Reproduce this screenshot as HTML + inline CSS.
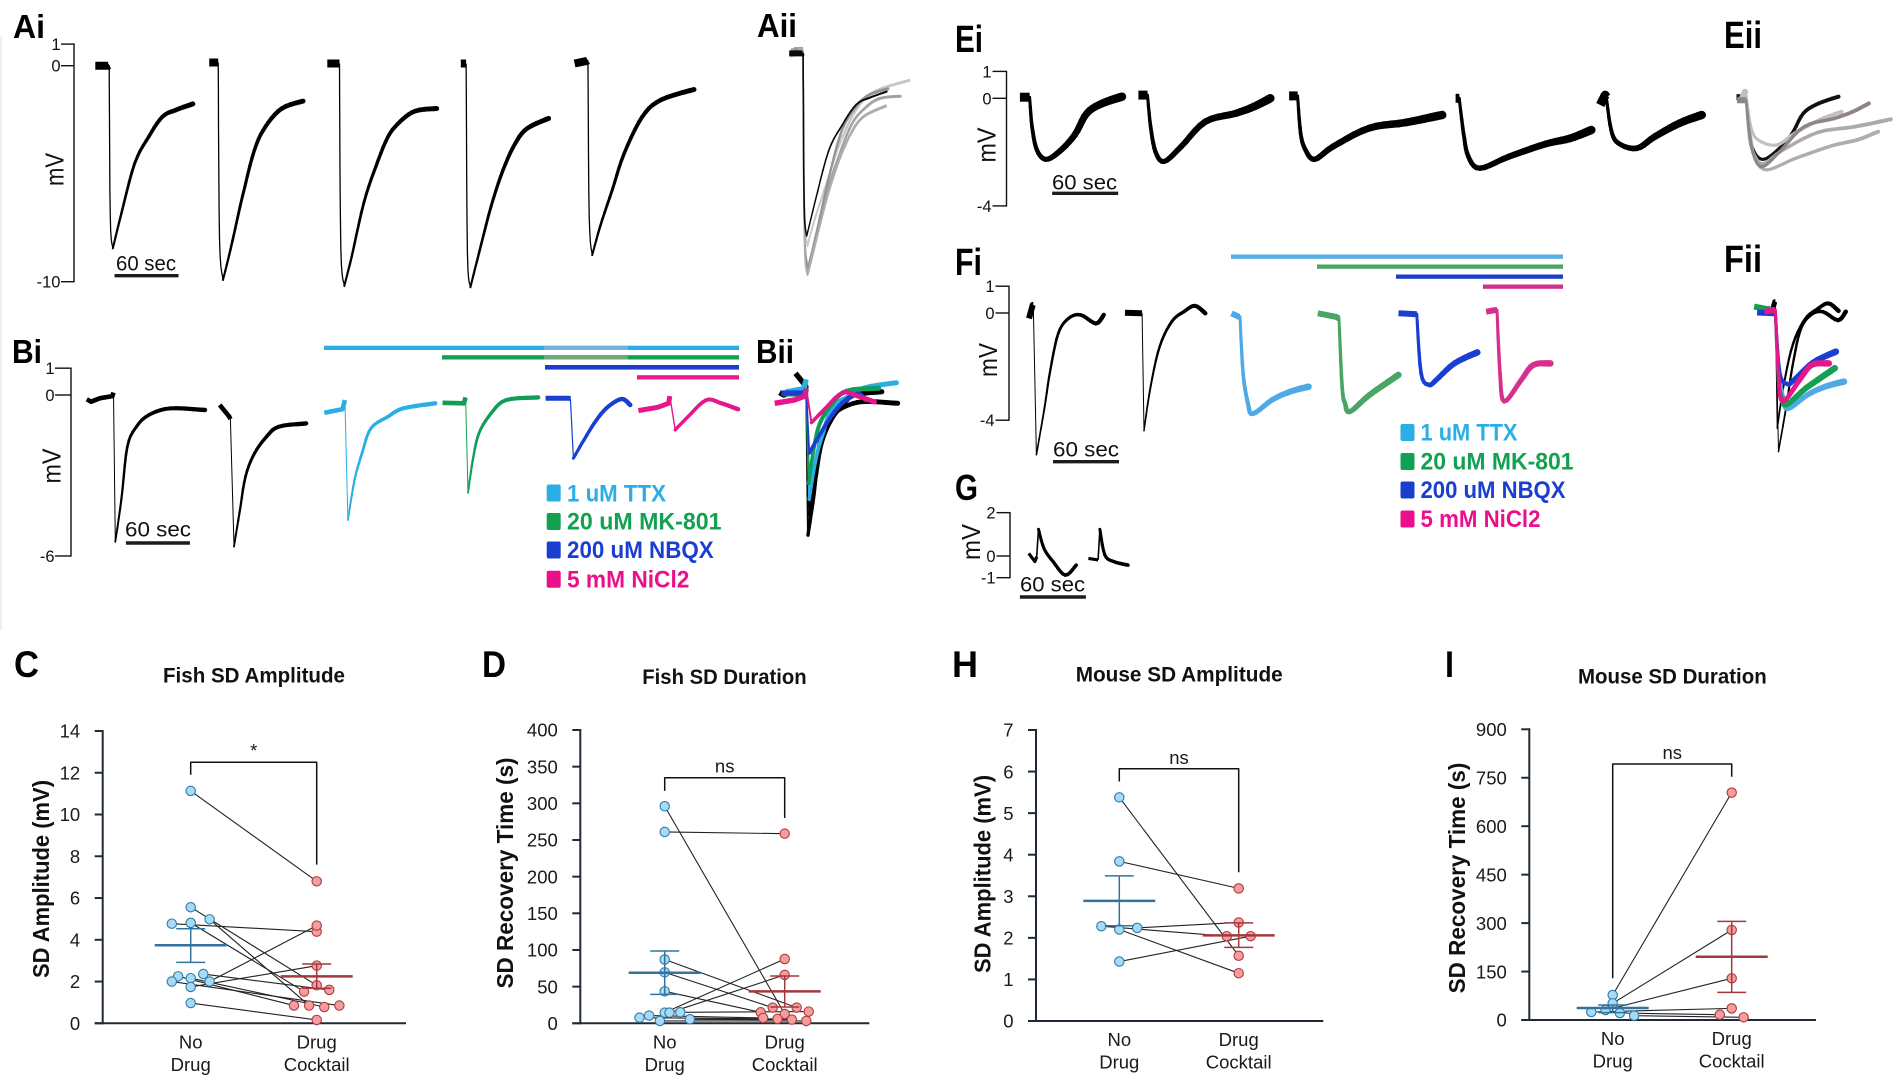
<!DOCTYPE html>
<html lang="en">
<head>
<meta charset="utf-8">
<title>Spreading depolarization recordings</title>
<style>
html,body{margin:0;padding:0;background:#fff}
svg{display:block;font-family:"Liberation Sans",sans-serif}
.pl{font-weight:700;fill:#000}
.ttl{font-weight:700;font-size:21px;fill:#111}
.yt{font-weight:700;font-size:23.5px;fill:#111}
.cat{font-size:18.5px;fill:#1a1a1a;text-anchor:middle}
.sig{font-size:18.5px;fill:#1a1a1a;text-anchor:middle}
.mv{font-size:26px;fill:#111}
.sb{font-size:21px;fill:#111}
.lg{font-weight:700;font-size:24px}
</style>
</head>
<body>
<svg id="figure" xmlns="http://www.w3.org/2000/svg" width="1902" height="1087" viewBox="0 0 1902 1087">
<rect x="0" y="0" width="1902" height="1087" fill="#fff"/>
<rect x="0" y="36" width="2" height="594" fill="#efefef"/>

<text class="pl" x="13" y="38" font-size="33" textLength="32" lengthAdjust="spacingAndGlyphs">Ai</text>
<text class="pl" x="757" y="37" font-size="33" textLength="40" lengthAdjust="spacingAndGlyphs">Aii</text>
<text class="pl" x="12" y="363" font-size="33" textLength="30" lengthAdjust="spacingAndGlyphs">Bi</text>
<text class="pl" x="756" y="363" font-size="33" textLength="38" lengthAdjust="spacingAndGlyphs">Bii</text>
<text class="pl" x="955" y="52" font-size="38" textLength="28" lengthAdjust="spacingAndGlyphs">Ei</text>
<text class="pl" x="1724" y="48" font-size="38" textLength="38" lengthAdjust="spacingAndGlyphs">Eii</text>
<text class="pl" x="955" y="275" font-size="38" textLength="27" lengthAdjust="spacingAndGlyphs">Fi</text>
<text class="pl" x="1724" y="272" font-size="38" textLength="38" lengthAdjust="spacingAndGlyphs">Fii</text>
<text class="pl" x="955" y="500" font-size="36" textLength="23" lengthAdjust="spacingAndGlyphs">G</text>
<text class="pl" x="14" y="677" font-size="37" textLength="25" lengthAdjust="spacingAndGlyphs">C</text>
<text class="pl" x="482" y="677" font-size="37" textLength="24" lengthAdjust="spacingAndGlyphs">D</text>
<text class="pl" x="952" y="677" font-size="37" textLength="26" lengthAdjust="spacingAndGlyphs">H</text>
<text class="pl" x="1445" y="677" font-size="37" textLength="9" lengthAdjust="spacingAndGlyphs">I</text>

<text class="mv" transform="translate(63.6,169.5) rotate(-90)" text-anchor="middle" textLength="33" lengthAdjust="spacingAndGlyphs">mV</text>
<text class="mv" transform="translate(60.6,466) rotate(-90)" text-anchor="middle" textLength="35" lengthAdjust="spacingAndGlyphs">mV</text>
<text class="mv" transform="translate(995.5,145) rotate(-90)" text-anchor="middle" textLength="35" lengthAdjust="spacingAndGlyphs">mV</text>
<text class="mv" transform="translate(997,360) rotate(-90)" text-anchor="middle" textLength="34" lengthAdjust="spacingAndGlyphs">mV</text>
<text class="mv" transform="translate(980,542) rotate(-90)" text-anchor="middle" textLength="36" lengthAdjust="spacingAndGlyphs">mV</text>

<text class="sb" x="116" y="270.7" textLength="60" lengthAdjust="spacingAndGlyphs">60 sec</text>
<text class="sb" x="125" y="536.7" textLength="66" lengthAdjust="spacingAndGlyphs">60 sec</text>
<text class="sb" x="1052" y="189.3" textLength="65" lengthAdjust="spacingAndGlyphs">60 sec</text>
<text class="sb" x="1053" y="456.7" textLength="66" lengthAdjust="spacingAndGlyphs">60 sec</text>
<text class="sb" x="1020" y="591.7" textLength="65" lengthAdjust="spacingAndGlyphs">60 sec</text>

<g>
<rect x="324" y="345.7" width="415" height="4.3" fill="#29aee6"/>
<rect x="544" y="345.7" width="84" height="4.3" fill="#6fb4e0"/>
<rect x="442" y="355.2" width="297" height="4.3" fill="#12a150"/>
<rect x="544" y="355.2" width="84" height="4.3" fill="#6ba87a"/>
<rect x="545" y="365" width="194" height="4.6" fill="#1a3fd0"/>
<rect x="637" y="375.2" width="102" height="4.3" fill="#ec1a8e"/>
</g>
<g>
<rect x="546.7" y="484.5" width="14" height="17" rx="2" fill="#29aee6"/>
<text class="lg" x="567" y="501.3" fill="#29aee6" textLength="99" lengthAdjust="spacingAndGlyphs">1 uM TTX</text>
<rect x="546.7" y="513" width="14" height="17" rx="2" fill="#12a150"/>
<text class="lg" x="567" y="529.7" fill="#12a150" textLength="154.5" lengthAdjust="spacingAndGlyphs">20 uM MK-801</text>
<rect x="546.7" y="541.5" width="14" height="17" rx="2" fill="#1a3fd0"/>
<text class="lg" x="567" y="558" fill="#1a3fd0" textLength="146.7" lengthAdjust="spacingAndGlyphs">200 uM NBQX</text>
<rect x="546.7" y="570.8" width="14" height="17" rx="2" fill="#ec0f8c"/>
<text class="lg" x="567" y="587.3" fill="#ec0f8c" textLength="122.4" lengthAdjust="spacingAndGlyphs">5 mM NiCl2</text>
</g>

<g>
<rect x="1231" y="254.5" width="332" height="4.3" fill="#56ade8"/>
<rect x="1317" y="264.5" width="246" height="4.3" fill="#4aa565"/>
<rect x="1396" y="274.5" width="167" height="4.3" fill="#1a3fc8"/>
<rect x="1483" y="284.5" width="80" height="4.3" fill="#d0308a"/>
</g>
<g>
<rect x="1400.5" y="424" width="14" height="17" rx="2" fill="#29aee6"/>
<text class="lg" x="1420.5" y="440.7" fill="#29aee6" textLength="97" lengthAdjust="spacingAndGlyphs">1 uM TTX</text>
<rect x="1400.5" y="453" width="14" height="17" rx="2" fill="#12a150"/>
<text class="lg" x="1420.5" y="469.7" fill="#12a150" textLength="153" lengthAdjust="spacingAndGlyphs">20 uM MK-801</text>
<rect x="1400.5" y="481.5" width="14" height="17" rx="2" fill="#1a3fd0"/>
<text class="lg" x="1420.5" y="498" fill="#1a3fd0" textLength="145" lengthAdjust="spacingAndGlyphs">200 uM NBQX</text>
<rect x="1400.5" y="510.5" width="14" height="17" rx="2" fill="#ec0f8c"/>
<text class="lg" x="1420.5" y="527" fill="#ec0f8c" textLength="120" lengthAdjust="spacingAndGlyphs">5 mM NiCl2</text>
</g>

<text class="ttl" x="163" y="682.7" textLength="182" lengthAdjust="spacingAndGlyphs">Fish SD Amplitude</text>
<text class="yt" transform="translate(49,879) rotate(-90)" text-anchor="middle" textLength="198" lengthAdjust="spacingAndGlyphs">SD Amplitude (mV)</text>
<text class="cat" x="190.7" y="1048.3">No</text>
<text class="cat" x="190.7" y="1071">Drug</text>
<text class="cat" x="316.7" y="1048.3">Drug</text>
<text class="cat" x="316.7" y="1071">Cocktail</text>
<text class="sig" x="253.7" y="757">*</text>

<text class="ttl" x="642.3" y="684" textLength="164.4" lengthAdjust="spacingAndGlyphs">Fish SD Duration</text>
<text class="yt" transform="translate(513,873) rotate(-90)" text-anchor="middle" textLength="231" lengthAdjust="spacingAndGlyphs">SD Recovery Time (s)</text>
<text class="cat" x="664.7" y="1048.3">No</text>
<text class="cat" x="664.7" y="1071">Drug</text>
<text class="cat" x="784.7" y="1048.3">Drug</text>
<text class="cat" x="784.7" y="1071">Cocktail</text>
<text class="sig" x="724.7" y="772.3">ns</text>

<text class="ttl" x="1075.7" y="681.7" textLength="207" lengthAdjust="spacingAndGlyphs">Mouse SD Amplitude</text>
<text class="yt" transform="translate(990.7,874) rotate(-90)" text-anchor="middle" textLength="198" lengthAdjust="spacingAndGlyphs">SD Amplitude (mV)</text>
<text class="cat" x="1119.3" y="1046">No</text>
<text class="cat" x="1119.3" y="1068.7">Drug</text>
<text class="cat" x="1238.7" y="1046">Drug</text>
<text class="cat" x="1238.7" y="1068.7">Cocktail</text>
<text class="sig" x="1179" y="764">ns</text>

<text class="ttl" x="1578" y="683.3" textLength="188.7" lengthAdjust="spacingAndGlyphs">Mouse SD Duration</text>
<text class="yt" transform="translate(1465,878) rotate(-90)" text-anchor="middle" textLength="230.7" lengthAdjust="spacingAndGlyphs">SD Recovery Time (s)</text>
<text class="cat" x="1612.7" y="1045">No</text>
<text class="cat" x="1612.7" y="1067.7">Drug</text>
<text class="cat" x="1731.7" y="1045">Drug</text>
<text class="cat" x="1731.7" y="1067.7">Cocktail</text>
<text class="sig" x="1672.3" y="759">ns</text>

<g id="marks"></g>
</svg>

<script>
/* ---------- recorded traces: seconds relative to depolarisation onset, values in mV ---------- */
const a1T=[-13,-1,0,1,3.4,11.4,23.9,37,50,62.5,78.4];
const a1V=[0,0,0.03,-7,-8.46,-6.84,-4.52,-3.29,-2.36,-2.05,-1.77];
const a2T=[-8.5,-1,0,1.2,4.5,11.4,22.7,34,44.3,59.6,79.5];
const a2V=[0.15,0.15,0.15,-8,-9.92,-8.53,-6.06,-3.9,-2.82,-1.98,-1.64];
const a3T=[-11.4,-1,0,1.2,4.5,11.4,22.7,34,45.5,56.8,71,91];
const a3V=[0.1,0.1,0.1,-8.4,-10.2,-8.84,-6.37,-4.68,-3.29,-2.59,-2.1,-1.98];
const a4T=[-5,-1,0,1.2,4,12,23.3,34.6,46,57.4,77.3];
const a4V=[0.1,0.1,0.1,-8.6,-10.26,-8.69,-6.53,-4.83,-3.6,-2.9,-2.44];
const a5T=[-12.5,-1,0,1.2,4,11.4,22.7,34,51,68.2,99.4];
const a5V=[0.1,0.22,0.25,-7,-8.77,-7.45,-5.76,-4.06,-2.36,-1.59,-1.1];

const b1T=[-25,-21,-12.5,-1,0,1.7,7.4,13,21.6,33,52.8,85.8];
const b1V=[-0.16,-0.25,-0.12,-0.04,0.09,-5.47,-3.91,-1.93,-1.18,-0.75,-0.5,-0.56];
const b2T=[-10,-1,0,3.4,8.5,14.2,22.7,34,45.5,71];
const b2V=[-0.37,-0.81,-0.9,-5.65,-4.41,-3.04,-2.17,-1.55,-1.18,-1.06];
const b3T=[-19.3,-2.3,0,2.8,9,16,24.4,40.3,54.5,84.6];
const b3V=[-0.66,-0.53,-0.19,-4.66,-3.17,-2.17,-1.24,-0.81,-0.5,-0.31];
const b4T=[-21.6,-1.7,0,2.3,6.8,12.5,24,38,68];
const b4V=[-0.29,-0.31,-0.09,-3.64,-2.42,-1.43,-0.68,-0.19,-0.09];
const b5T=[-23.3,-1.7,0,2.8,10.8,22.2,33.5,47.7,56];
const b5V=[-0.12,-0.12,-0.14,-2.36,-1.8,-1.06,-0.5,-0.15,-0.37];
const b6T=[-29.5,-11.4,-1.1,0,5,17,34,48.3,64];
const b6V=[-0.58,-0.46,-0.31,-0.04,-1.3,-0.81,-0.19,-0.31,-0.53];

const e1T=[-8.8,-0.5,0,2.2,6.6,14.9,27,41,52,66,84];
const e1V=[0.04,0.04,0.04,-1.05,-1.92,-2.27,-1.98,-1.36,-0.56,-0.19,0.06];
const e2T=[-8.3,-0.5,0,2.8,7.2,15,30.4,52.5,80,96.7,111.6];
const e2V=[0.12,0.12,0.12,-1.05,-1.98,-2.35,-1.8,-0.87,-0.56,-0.31,0];
const e3T=[-7.7,-0.5,0,2.8,7.2,15.5,32,65,98.3,131.5];
const e3V=[0.09,0.09,0.09,-1.3,-1.92,-2.27,-1.8,-1.11,-0.9,-0.62];
const e4T=[-3.3,-0.5,0,3.9,8.3,18.8,45,78.5,100.6,120];
const e4V=[0,0,0,-1.3,-2.17,-2.6,-2.17,-1.7,-1.49,-1.18];
const e5T=[-5.5,-1,0,4.4,11,27.6,44.2,66.3,86.7];
const e5V=[-0.25,0.12,0.05,-1.18,-1.67,-1.86,-1.42,-0.93,-0.62];

const f1T=[-3.9,-0.55,0,2.8,9.9,15.5,22.7,32,43,56.9,64];
const f1V=[-0.2,0.3,0.3,-5.29,-3.61,-2.12,-0.76,-0.2,-0.07,-0.39,-0.07];
const f2T=[-15.5,-1.1,0,1.7,7.7,16,27,38,48,57.5];
const f2V=[0.01,-0.01,-0.01,-4.39,-2.75,-1.25,-0.32,0.05,0.27,-0.01];
const f3T=[-7.7,-1.1,0,2.8,7.2,11.6,29.3,45.9,62.4];
const f3V=[-0.01,-0.14,-0.14,-2.25,-3.37,-3.76,-3.24,-2.93,-2.75];
const f4T=[-19.3,-2.8,0,2.8,5.5,9.9,27.6,54];
const f4V=[-0.01,-0.14,-0.2,-2.75,-3.37,-3.68,-3.06,-2.31];
const f5T=[-16.6,-1.7,0,3.9,11,17.7,34.2,55];
const f5V=[-0.01,-0.04,-0.04,-2.25,-2.68,-2.5,-1.88,-1.47];
const f6T=[-9.9,-1.1,0,2.8,6.6,22,33,48.6];
const f6V=[0.05,0.11,0.11,-2.25,-3.3,-2.5,-1.94,-1.88];

const g1T=[-8.3,-2.8,-1.1,0.5,5.5,13.8,24.9,34.8];
const g1V=[0.12,-0.26,-0.03,1.23,0.35,-0.26,-0.88,-0.42];
const g2T=[-9.9,-1.1,0.55,5,13.3,26];
const g2V=[-0.11,-0.18,1.23,0.05,-0.26,-0.42];

/* trace-panel axis ticks (mV) */
const aTicks=[1,0,-10];
const bTicks=[1,0,-6];
const eTicks=[1,0,-4];
const fTicks=[1,0,-4];
const gTicks=[2,0,-1];

/* ---------- paired dot plots ---------- */
const cTicks=[0,2,4,6,8,10,12,14];
const cNoDrug=[11.13,5.56,4.98,4.77,4.81,2.36,2.25,2.16,2.0,2.0,1.74,0.97];
const cNoJitter=[0,0,0.15,-0.15,0,0.1,-0.1,0,-0.15,0.15,0,0];
const cCocktail=[6.8,1.82,0.85,4.39,1.52,1.6,0.85,0.78,0.85,4.68,2.76,0.16];
const cCocktailJitter=[0,0,-0.06,0,-0.1,0.1,-0.18,0.06,0.18,0,0,0];
const cNoStats=[3.74,4.53,2.92];
const cCocktailStats=[2.25,2.84,1.68];
const cBracket=[12.5,11.9,7.6];

const dTicks=[0,50,100,150,200,250,300,350,400];
const dNoDrug=[296,261,87,69.5,43.6,14.5,14.5,15,10.5,7.7,3.2,5.5];
const dNoJitter=[0,0,0,0,0,0,0.04,0.13,-0.13,-0.21,-0.04,0.21];
const dCocktail=[12.7,258.6,21.4,21.4,15,87.7,66,16,7.3,6,3.2,5];
const dCocktailJitter=[0,0,0.1,-0.1,-0.2,0,0,0.2,-0.18,-0.06,0.18,0.06];
const dNoStats=[69,98.6,39.5];
const dCocktailStats=[43.6,64.5,22.3];
const dBracket=[335,317,280];

const hTicks=[0,1,2,3,4,5,6,7];
const hNoDrug=[5.38,3.84,2.28,2.2,2.24,1.43];
const hNoJitter=[0,0,-0.15,0,0.15,0];
const hCocktail=[1.57,3.19,2.04,1.15,2.37,2.04];
const hCocktailJitter=[0,0,-0.1,0,0,0.1];
const hNoStats=[2.89,3.49,2.29];
const hCocktailStats=[2.06,2.36,1.77];
const hBracket=[6.07,5.76,3.58];

const iTicks=[0,150,300,450,600,750,900];
const iNoDrug=[77.4,51.6,31,24.8,21.7,13.4];
const iNoJitter=[0,0,-0.06,-0.18,0.06,0.18];
const iCocktail=[703.9,278.7,129,36,16.5,8.3];
const iCocktailJitter=[0,0,0,0,-0.1,0.1];
const iNoStats=[37,46.4,22.7];
const iCocktailStats=[196,305.5,85.7];
const iBracket=[792.7,129,753.4];

const NS='http://www.w3.org/2000/svg';
const root=document.getElementById('marks');
function mk(tag,attrs){
  const el=document.createElementNS(NS,tag);
  for(const k in attrs) el.setAttribute(k,attrs[k]);
  return el;
}
function group(parent,name){
  const el=mk('g',{});
  
  
  parent.appendChild(el);
  return el;
}
function line(parent,name,x1,y1,x2,y2,color,w,cap){
  const el=mk('line',{x1:x1,y1:y1,x2:x2,y2:y2,stroke:color,'stroke-width':w,'stroke-linecap':cap||'butt'});
  
  
  parent.appendChild(el);
  return el;
}
function poly(parent,name,pts,color,w,cap){
  const el=mk('polyline',{points:pts.map(p=>p[0].toFixed(1)+','+p[1].toFixed(1)).join(' '),fill:'none',stroke:color,'stroke-width':w,'stroke-linejoin':'round','stroke-linecap':cap||'butt'});
  
  
  parent.appendChild(el);
  return el;
}
function label(parent,name,x,y,str,size,anchor,color){
  const el=mk('text',{x:x,y:y,'font-size':size,'text-anchor':anchor,fill:color||'#111'});
  el.textContent=str;
  
  
  parent.appendChild(el);
  return el;
}
/* Catmull-Rom rendering of a polyline so the read-off values draw as a smooth curve */
function smooth(pts){
  if(pts.length<3) return pts;
  const out=[],n=pts.length,steps=5;
  for(let i=0;i<n-1;i++){
    const p0=pts[Math.max(i-1,0)],p1=pts[i],p2=pts[i+1],p3=pts[Math.min(i+2,n-1)];
    for(let s=0;s<steps;s++){
      const u=s/steps,u2=u*u,u3=u2*u;
      out.push([0,1].map(k=>0.5*(2*p1[k]+(p2[k]-p0[k])*u+(2*p0[k]-5*p1[k]+4*p2[k]-p3[k])*u2+(3*p1[k]-p0[k]-3*p2[k]+p3[k])*u3)));
    }
  }
  out.push(pts[n-1]);
  return out;
}

/* ---------- trace panels ---------- */
function tracePanel(x0,y0,pxS,pxV){
  return {x:t=>x0+t*pxS,y:v=>y0-v*pxV,x0:x0,pxS:pxS};
}
function drawTrace(panel,name,t,v,at,shift,color,w){
  const g=group(root,name);
  const pts=t.map((tt,i)=>[panel.x(at+tt),panel.y(v[i]+shift)]);
  let b=0;
  t.forEach((tt,i)=>{if(tt<=0)b=i;});
  let p=b+1,best=-1;
  for(let i=b+1;i<v.length;i++){
    const d=Math.abs(v[i]-v[b]);
    if(d>best){best=d;p=i;}
  }
  if(w[4]) p=b;
  poly(g,name+'-baseline',pts.slice(0,b+1),color,w[0]);
  if(p>b) poly(g,name+'-onset',smooth(pts.slice(b,p+1)),color,w[1]);
  const rec=smooth(pts.slice(p));
  const n=rec.length-1;
  for(let i=0;i<n;i++){
    const width=w[2]+(w[3]-w[2])*i/Math.max(1,n-1);
    line(g,name+'-recovery-segment',rec[i][0].toFixed(1),rec[i][1].toFixed(1),rec[i+1][0].toFixed(1),rec[i+1][1].toFixed(1),color,width.toFixed(2),'round');
  }
}
function drawTraceAxis(panel,name,ticks,tickLen,labelGap){
  const g=group(root,name);
  const x=panel.x(0);
  const ys=ticks.map(panel.y);
  line(g,name+'-line',x,Math.min(...ys),x,Math.max(...ys),'#111',1.4,'square');
  ticks.forEach(tv=>{
    line(g,name+'-tick',x-tickLen,panel.y(tv),x,panel.y(tv),'#111',1.4);
    label(g,name+'-tick-label',x-tickLen-labelGap,panel.y(tv)+6,String(tv),16.5,'end','#111');
  });
}
function drawScaleBar(panel,name,at,secs,yPx){
  line(root,name,panel.x(at),yPx,panel.x(at+secs),yPx,'#1c1c1c',3.4);
}

const pA=tracePanel(74,65.7,1.0667,21.6);
const pB=tracePanel(71,395,1.0667,26.83);
const pE=tracePanel(1006.5,98.3,1.1,26.9);
const pF=tracePanel(1009,313,1.1,26.8);
const pG=tracePanel(1010,556,1.1,21.67);

drawTraceAxis(pA,'y-axis-ai',aTicks,13,0.5);
drawTraceAxis(pB,'y-axis-bi',bTicks,16,0.5);
drawTraceAxis(pE,'y-axis-ei',eTicks,14,1);
drawTraceAxis(pF,'y-axis-fi',fTicks,13.5,1);
drawTraceAxis(pG,'y-axis-g',gTicks,13.5,1);

const wA=[8,1.3,2,5];
drawTrace(pA,'trace-ai-1',a1T,a1V,33,0,'#000',wA);
drawTrace(pA,'trace-ai-2',a2T,a2V,135.2,0,'#000',wA);
drawTrace(pA,'trace-ai-3',a3T,a3V,248.9,0,'#000',wA);
drawTrace(pA,'trace-ai-4',a4T,a4V,367.6,0,'#000',wA);
drawTrace(pA,'trace-ai-5',a5T,a5V,481.8,0,'#000',wA);
drawScaleBar(pA,'scale-bar-ai',38,60,275.7);

const wAo=[6,1.6,1.8,3];
drawTrace(pA,'overlay-aii-5',a5T,a5V,683.5,0.42,'#c8c8c8',wAo);
drawTrace(pA,'overlay-aii-3',a3T,a3V,683.5,0.57,'#a2a2a2',wAo);
drawTrace(pA,'overlay-aii-2',a2T,a2V,683.5,0.57,'#949494',wAo);
drawTrace(pA,'overlay-aii-4',a4T,a4V,683.5,0.57,'#adadad',wAo);
drawTrace(pA,'overlay-aii-1',a1T,a1V,683.5,0.57,'#0a0a0a',[6,1.6,1.4,2]);

const wB=[4.6,1,1.8,4.4];
drawTrace(pB,'trace-bi-1',b1T,b1V,39.8,0,'#000',wB);
drawTrace(pB,'trace-bi-2',b2T,b2V,149.4,0,'#000',wB);
drawTrace(pB,'trace-bi-ttx',b3T,b3V,256.8,0,'#29aee6',wB);
drawTrace(pB,'trace-bi-mk801',b4T,b4V,369.9,0,'#0f9d58',wB);
drawTrace(pB,'trace-bi-nbqx',b5T,b5V,468.2,0,'#1a3fd0',[5,1.2,3,4.6]);
drawTrace(pB,'trace-bi-nicl2',b6T,b6V,561.4,0,'#e6178a',[5,1.4,3.2,4.4]);
drawScaleBar(pB,'scale-bar-bi',51.5,60,543);

const wBo=[5.4,2,3.4,5];
drawTrace(pB,'overlay-bii-1',b1T,b1V,689.2,0.25,'#000',wBo);
drawTrace(pB,'overlay-bii-2',b2T,b2V,689.2,1.18,'#000',wBo);
drawTrace(pB,'overlay-bii-ttx',b3T,b3V,689.2,0.77,'#29aee6',wBo);
drawTrace(pB,'overlay-bii-mk801',b4T,b4V,689.2,0.34,'#0f9d58',wBo);
drawTrace(pB,'overlay-bii-nbqx',b5T,b5V,689.2,0.19,'#1a3fd0',wBo);
drawTrace(pB,'overlay-bii-nicl2',b6T,b6V,689.2,0.27,'#e6178a',wBo);

const wE=[9,0,3,8.5,true];
drawTrace(pE,'trace-ei-1',e1T,e1V,21,0,'#000',wE);
drawTrace(pE,'trace-ei-2',e2T,e2V,128.2,0,'#000',wE);
drawTrace(pE,'trace-ei-3',e3T,e3V,264.6,0,'#000',wE);
drawTrace(pE,'trace-ei-4',e4T,e4V,411.6,0,'#000',wE);
drawTrace(pE,'trace-ei-5',e5T,e5V,545.3,0,'#000',wE);
drawScaleBar(pE,'scale-bar-ei',41.5,60,193.3);

const wEo=[6,0,2.5,4,true];
drawTrace(pE,'overlay-eii-1',e1T,e1V,672.4,0,'#111',wEo);
drawTrace(pE,'overlay-eii-5',e5T,e5V,672.4,0.12,'#c0c0c0',wEo);
drawTrace(pE,'overlay-eii-3',e3T,e3V,672.4,-0.16,'#ababab',wEo);
drawTrace(pE,'overlay-eii-4',e4T,e4V,672.4,-0.06,'#aeaeae',wEo);
drawTrace(pE,'overlay-eii-2',e2T,e2V,672.4,-0.19,'#8f8588',wEo);

const wF=[6,1,1.5,4.4];
const wFc=[6,0,3,6.5,true];
drawTrace(pF,'trace-fi-1',f1T,f1V,22.1,0,'#000',wF);
drawTrace(pF,'trace-fi-2',f2T,f2V,121,0,'#000',wF);
drawTrace(pF,'trace-fi-ttx',f3T,f3V,210,0,'#4fa9e6',wFc);
drawTrace(pF,'trace-fi-mk801',f4T,f4V,300,0,'#4aa565',wFc);
drawTrace(pF,'trace-fi-nbqx',f5T,f5V,370.7,0,'#1a3fd0',wFc);
drawTrace(pF,'trace-fi-nicl2',f6T,f6V,443.6,0,'#d6308e',wFc);
drawScaleBar(pF,'scale-bar-fi',40,60,461.7);

const wFo=[6,0,3,6.5,true];
drawTrace(pF,'overlay-fii-1',f1T,f1V,696.7,0.12,'#000',[5,1,1.5,4.4]);
drawTrace(pF,'overlay-fii-2',f2T,f2V,696.7,0.09,'#000',[5,1,1.5,4.4]);
drawTrace(pF,'overlay-fii-ttx',f3T,f3V,696.7,0.19,'#4fa9e6',wFo);
drawTrace(pF,'overlay-fii-mk801',f4T,f4V,696.7,0.25,'#12a150',wFo);
drawTrace(pF,'overlay-fii-nbqx',f5T,f5V,696.7,0.03,'#1a3fd0',wFo);
drawTrace(pF,'overlay-fii-nicl2',f6T,f6V,696.7,0,'#e6178a',wFo);

const wG=[3.2,1.6,3,3.6];
drawTrace(pG,'trace-g-1',g1T,g1V,25.4,0,'#000',wG);
drawTrace(pG,'trace-g-2',g2T,g2V,81.2,0,'#000',wG);
drawScaleBar(pG,'scale-bar-g',9,60,597);

/* ---------- dot plots ---------- */
function drawPaired(o){
  const g=group(root,'chart-'+o.id);
  const yMax=o.ticks[o.ticks.length-1];
  const y=v=>o.yBottom-v*(o.yBottom-o.yTop)/yMax;
  const xCat=(c,j)=>o.xCats[c]+(j||0)*(o.xCats[1]-o.xCats[0]);

  const axis=group(g,'axes-'+o.id);
  line(axis,'y-axis-'+o.id,o.xAxis,y(yMax)-1,o.xAxis,o.yBottom+1,'#1f2a36',2);
  line(axis,'x-axis-'+o.id,o.xAxis-8,o.yBottom,o.xEnd,o.yBottom,'#1f2a36',2);
  o.ticks.forEach(tv=>{
    line(axis,'y-tick-'+o.id,o.xAxis-8,y(tv),o.xAxis,y(tv),'#1f2a36',2);
    label(axis,'y-tick-label-'+o.id,o.xAxis-22.5,y(tv)+6.7,String(tv),18.5,'end','#1a1a1a');
  });

  const br=group(g,'significance-bracket-'+o.id);
  poly(br,'bracket-line-'+o.id,[[xCat(0),y(o.bracket[1])],[xCat(0),y(o.bracket[0])],[xCat(1),y(o.bracket[0])],[xCat(1),y(o.bracket[2])]],'#111',1.5);

  const pairs=group(g,'paired-lines-'+o.id);
  o.no.forEach((v,i)=>{
    line(pairs,'pair-line-'+o.id,xCat(0,o.noJ[i]),y(v),xCat(1,o.drugJ[i]),y(o.drug[i]),'#222',1.1);
  });

  function dots(vals,jit,c,fill,stroke,nm){
    const dg=group(g,nm+'-points-'+o.id);
    vals.forEach((v,i)=>{
      const el=mk('circle',{cx:xCat(c,jit[i]),cy:y(v),r:4.7,fill:fill,stroke:stroke,'stroke-width':1.1});
      
      
      dg.appendChild(el);
    });
  }
  dots(o.no,o.noJ,0,'#a8daf7','#2f7ba6','no-drug');
  dots(o.drug,o.drugJ,1,'#f59c9c','#ad3b3f','cocktail');

  function stats(s,c,color,nm){
    const sg=group(g,nm+'-mean-sem-'+o.id);
    const cx=xCat(c);
    line(sg,nm+'-mean',cx-36,y(s[0]),cx+36,y(s[0]),color,2.5);
    line(sg,nm+'-error-stem',cx,y(s[1]),cx,y(s[2]),color,1.5);
    line(sg,nm+'-error-cap-top',cx-14.5,y(s[1]),cx+14.5,y(s[1]),color,1.5);
    line(sg,nm+'-error-cap-bottom',cx-14.5,y(s[2]),cx+14.5,y(s[2]),color,1.5);
  }
  stats(o.noS,0,'#33749c','no-drug');
  stats(o.drugS,1,'#a3393d','cocktail');
}

drawPaired({id:'c',ticks:cTicks,no:cNoDrug,noJ:cNoJitter,drug:cCocktail,drugJ:cCocktailJitter,noS:cNoStats,drugS:cCocktailStats,bracket:cBracket,xAxis:102.7,xEnd:406,yTop:731,yBottom:1023.3,xCats:[190.7,316.7]});
drawPaired({id:'d',ticks:dTicks,no:dNoDrug,noJ:dNoJitter,drug:dCocktail,drugJ:dCocktailJitter,noS:dNoStats,drugS:dCocktailStats,bracket:dBracket,xAxis:580.3,xEnd:869.3,yTop:730,yBottom:1023.3,xCats:[664.7,784.7]});
drawPaired({id:'h',ticks:hTicks,no:hNoDrug,noJ:hNoJitter,drug:hCocktail,drugJ:hCocktailJitter,noS:hNoStats,drugS:hCocktailStats,bracket:hBracket,xAxis:1036,xEnd:1323.3,yTop:730,yBottom:1021,xCats:[1119.3,1238.7]});
drawPaired({id:'i',ticks:iTicks,no:iNoDrug,noJ:iNoJitter,drug:iCocktail,drugJ:iCocktailJitter,noS:iNoStats,drugS:iCocktailStats,bracket:iBracket,xAxis:1529.3,xEnd:1816,yTop:729.3,yBottom:1020,xCats:[1612.7,1731.7]});
</script>
</body>
</html>
